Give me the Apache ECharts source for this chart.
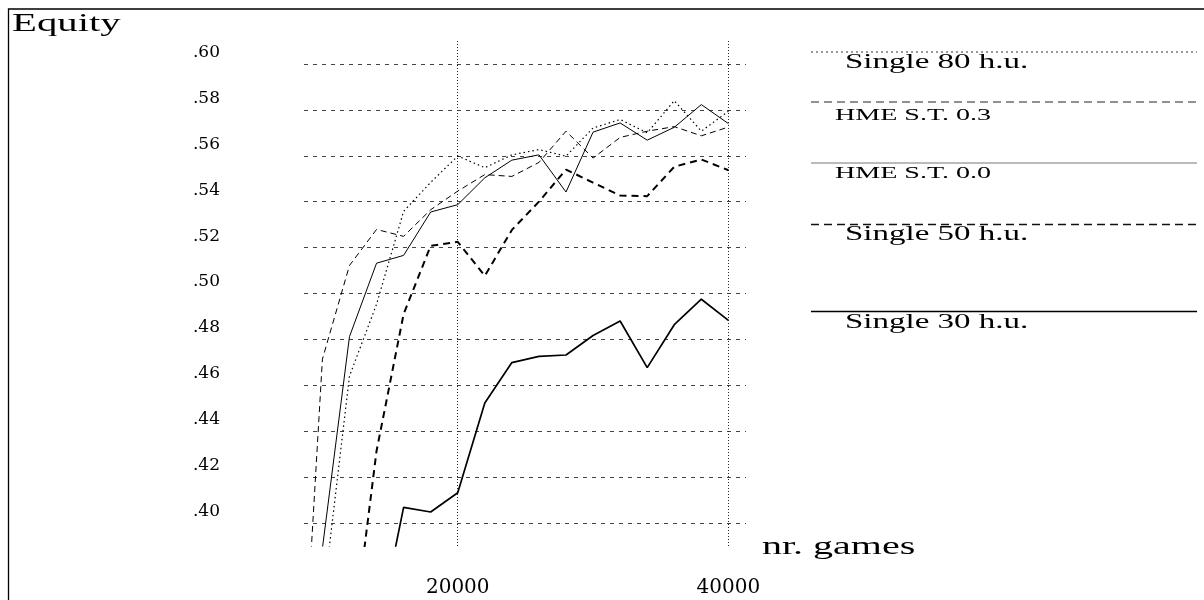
<!DOCTYPE html>
<html>
<head>
<meta charset="utf-8">
<script src="https://cdn.jsdelivr.net/npm/echarts@6/dist/echarts.min.js"></script>
<style>
html,body{margin:0;padding:0;background:#fff;}
#chart{width:1204px;height:600px;}
</style>
</head>
<body>
<div id="chart"></div>
<script>
// ---- data ----
const games = [8000, 10000, 12000, 14000, 16000, 18000, 20000, 22000, 24000, 26000, 28000, 30000, 32000, 34000, 36000, 38000, 40000];
const single80 = [null, 0.364, 0.4640, 0.4953, 0.5358, 0.5484, 0.5599, 0.5548, 0.5604, 0.5627, 0.5598, 0.5721, 0.5758, 0.5700, 0.5840, 0.5707, 0.5794];
const hme03    = [0.270, 0.4714, 0.5122, 0.5279, 0.5249, 0.5365, 0.5446, 0.5518, 0.5510, 0.5571, 0.5707, 0.5590, 0.5680, 0.5707, 0.5727, 0.5687, 0.5725];
const hme00    = [null, 0.389, 0.4812, 0.5132, 0.5166, 0.5355, 0.5387, 0.5504, 0.5581, 0.5604, 0.5442, 0.5703, 0.5743, 0.5668, 0.5724, 0.5823, 0.5740];
const single50 = [null, null, 0.337, 0.4314, 0.4910, 0.5208, 0.5225, 0.5077, 0.5277, 0.5400, 0.5540, 0.5483, 0.5427, 0.5424, 0.5552, 0.5584, 0.5537];
const single30 = [null, null, null, 0.349, 0.4068, 0.4048, 0.4132, 0.4523, 0.4699, 0.4726, 0.4732, 0.4817, 0.4880, 0.4677, 0.4864, 0.4975, 0.4883];
const seriesNames = ['Single 80 h.u.', 'HME S.T. 0.3', 'HME S.T. 0.0', 'Single 50 h.u.', 'Single 30 h.u.'];
const yTickValues = [0.40, 0.42, 0.44, 0.46, 0.48, 0.50, 0.52, 0.54, 0.56, 0.58, 0.60];
const xTickValues = [20000, 40000];
const yAxisTitle = 'Equity';
const xAxisTitle = 'nr. games';

function pairs(arr) {
  const out = [];
  games.forEach((g, i) => { if (arr[i] !== null) out.push([g, arr[i]]); });
  return out;
}

const styles = [
  { color: '#000', width: 1.2, type: [1.5, 3] },      // Single 80 (dotted)
  { color: '#000', width: 1, type: [6, 4] },          // HME 0.3 (thin dashed)
  { color: '#000', width: 1, type: 'solid' },         // HME 0.0 (thin solid)
  { color: '#000', width: 2, type: [7, 5] },          // Single 50 (bold dashed)
  { color: '#000', width: 1.7, type: 'solid' }        // Single 30 (bold solid)
];
const dataSets = [single80, hme03, hme00, single50, single30];

const legendRows = [
  { lineY: 52, textY: 63, textX: 845, size: 20, stroke: '#333', lw: 1, dash: [2, 3] },
  { lineY: 102, textY: 116, textX: 835, size: 17, stroke: '#222', lw: 1, dash: [8, 5] },
  { lineY: 163, textY: 174, textX: 835, size: 17, stroke: '#777', lw: 1, dash: null },
  { lineY: 224.5, textY: 235, textX: 845, size: 20, stroke: '#111', lw: 1.3, dash: [8, 5] },
  { lineY: 311.5, textY: 322.5, textX: 845, size: 20, stroke: '#000', lw: 1.5, dash: null }
];

const graphics = [
  { type: 'rect', shape: { x: 8.5, y: 9, width: 1400, height: 800 }, style: { fill: 'none', stroke: '#000', lineWidth: 1.3 }, silent: true },
  { type: 'text', x: 12, y: 24, scaleX: 1.63, style: { text: yAxisTitle, font: '25px "Liberation Serif"', fill: '#000', textVerticalAlign: 'middle', verticalAlign: 'middle' } },
  { type: 'text', x: 762, y: 547, scaleX: 1.6, style: { text: xAxisTitle, font: '25px "Liberation Serif"', fill: '#000', textVerticalAlign: 'middle', verticalAlign: 'middle' } }
];
legendRows.forEach((r, i) => {
  graphics.push({ type: 'line', shape: { x1: 811, y1: r.lineY, x2: 1197, y2: r.lineY },
    style: { stroke: r.stroke, lineWidth: r.lw, lineDash: r.dash }, silent: true });
  graphics.push({ type: 'text', x: r.textX, y: r.textY, scaleX: 1.65,
    style: { text: seriesNames[i], font: r.size + 'px "Liberation Serif"', fill: '#000', textVerticalAlign: 'middle', verticalAlign: 'middle' } });
});

const chart = echarts.init(document.getElementById('chart'), null, { renderer: 'canvas' });
chart.setOption({
  animation: false,
  backgroundColor: '#fff',
  grid: { left: 304, right: 458, top: 41, bottom: 54, containLabel: false },
  xAxis: {
    type: 'value', min: 8640, max: 41300,
    axisLine: { show: false }, axisTick: { show: false, customValues: xTickValues },
    axisLabel: { customValues: xTickValues, margin: 32, fontFamily: 'DejaVu Serif', fontSize: 20, color: '#000', formatter: v => String(v) },
    splitLine: { show: true, lineStyle: { color: '#222', width: 1, type: [1, 2] } }
  },
  yAxis: {
    type: 'value', min: 0.39, max: 0.61,
    axisLine: { show: false }, axisTick: { show: false, customValues: yTickValues },
    axisLabel: { customValues: yTickValues, margin: 84, fontFamily: 'DejaVu Serif', fontSize: 17, color: '#000',
      verticalAlign: 'bottom', lineHeight: 23,
      formatter: v => v.toFixed(2).replace(/^0/, '') },
    splitLine: { show: true, lineStyle: { color: '#444', width: 1, type: [4, 5] } }
  },
  graphic: graphics,
  series: dataSets.map((arr, i) => ({
    name: seriesNames[i], type: 'line', data: pairs(arr), showSymbol: false, symbol: 'none',
    clip: true, lineStyle: styles[i], z: 3
  }))
});
</script>
</body>
</html>
